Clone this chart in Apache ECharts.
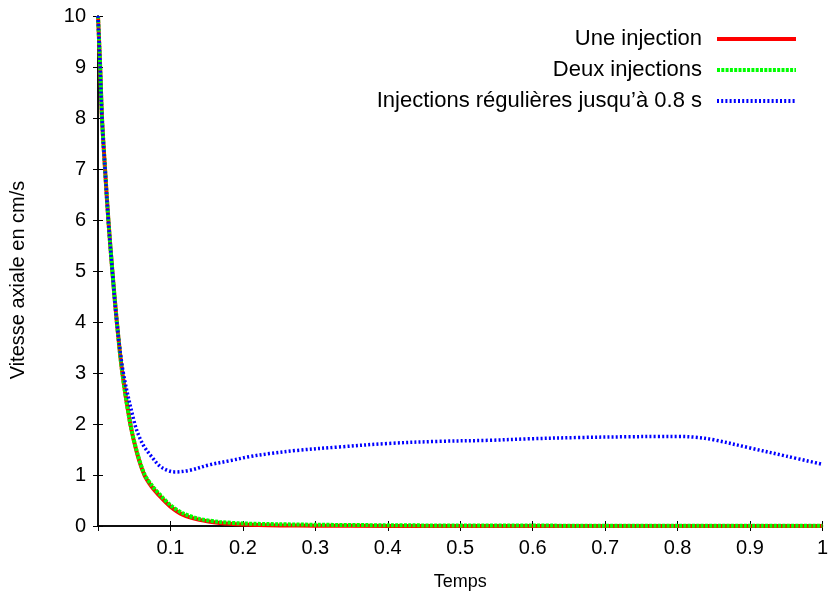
<!DOCTYPE html>
<html>
<head>
<meta charset="utf-8">
<script src="https://cdn.jsdelivr.net/npm/echarts@6/dist/echarts.min.js"></script>
<style>
html,body{margin:0;padding:0;background:#fff;}
#chart{width:831px;height:598px;}
</style>
</head>
<body>
<div id="chart"></div>
<script>
// Series names
const seriesNames = ['Une injection', 'Deux injections', 'Injections régulières jusqu’à 0.8 s'];

// Une injection (red)
const tUne = [0, 0.003, 0.0055, 0.0097, 0.0143, 0.0198, 0.026, 0.0336, 0.0446, 0.054, 0.064, 0.0736, 0.087, 0.1, 0.117, 0.14, 0.168, 0.2, 0.25, 0.3, 0.4, 0.5, 0.6, 0.7, 0.8, 0.9, 1.0];
const vUne = [10, 9, 8, 7, 6, 5, 4, 3, 2, 1.42, 1, 0.78, 0.56, 0.38, 0.22, 0.12, 0.06, 0.03, 0.012, 0.005, 0.001, 0, 0, 0, 0, 0, 0];

// Deux injections (green)
const tDeux = [0, 0.003, 0.0055, 0.0097, 0.0143, 0.0198, 0.026, 0.0336, 0.0446, 0.054, 0.064, 0.0736, 0.087, 0.1, 0.117, 0.14, 0.168, 0.2, 0.25, 0.3, 0.4, 0.5, 0.6, 0.7, 0.8, 0.9, 1.0];
const vDeux = [10, 9, 8, 7, 6, 5, 4, 3, 2, 1.44, 1.02, 0.81, 0.59, 0.41, 0.25, 0.14, 0.08, 0.05, 0.035, 0.025, 0.015, 0.01, 0.008, 0.006, 0.005, 0.004, 0.003];

// Injections régulières jusqu'à 0.8 s (blue)
const tReg = [0, 0.003, 0.0055, 0.0097, 0.0143, 0.0198, 0.026, 0.035, 0.0506, 0.057, 0.064, 0.074, 0.085, 0.096, 0.106, 0.126, 0.154, 0.182, 0.209, 0.237, 0.273, 0.333, 0.402, 0.471, 0.54, 0.595, 0.664, 0.733, 0.775, 0.802, 0.825, 0.85, 0.9, 0.95, 1.0];
const vReg = [10, 9, 8, 7, 6, 5, 4, 3, 2.01, 1.75, 1.55, 1.36, 1.18, 1.09, 1.06, 1.09, 1.2, 1.28, 1.36, 1.42, 1.48, 1.55, 1.62, 1.66, 1.68, 1.71, 1.735, 1.75, 1.755, 1.755, 1.74, 1.69, 1.53, 1.37, 1.21];

// Axis ticks
const xTicks = [0, 0.1, 0.2, 0.3, 0.4, 0.5, 0.6, 0.7, 0.8, 0.9, 1];
const yTicks = [0, 1, 2, 3, 4, 5, 6, 7, 8, 9, 10];

const zip = (t, v) => t.map((x, i) => [x, v[i]]);
const FONT = 'Liberation Sans, Arial, sans-serif';

const chart = echarts.init(document.getElementById('chart'), null, {renderer: 'canvas'});

const axisLine = {show: true, lineStyle: {color: '#000', width: 1.5}};
const axisTick = {show: true, inside: true, length: 5, lineStyle: {color: '#000', width: 1}};

const option = {
  animation: false,
  backgroundColor: '#fff',
  grid: {left: 98, right: 7, top: 16, bottom: 72, containLabel: false},
  legend: {
    orient: 'vertical',
    right: 28,
    top: 23,
    align: 'right',
    itemWidth: 79,
    itemHeight: 14,
    itemGap: 9,
    itemStyle: {color: 'rgba(0,0,0,0)', borderColor: 'rgba(0,0,0,0)', borderWidth: 0},
    lineStyle: {width: 4},
    textStyle: {fontFamily: FONT, fontSize: 22, color: '#000', padding: [0, 10, 0, 0]},
    data: seriesNames
  },
  xAxis: [{
    type: 'value',
    min: xTicks[0], max: xTicks[xTicks.length - 1], interval: 0.1,
    name: 'Temps', nameLocation: 'middle', nameGap: 47,
    nameTextStyle: {fontFamily: FONT, fontSize: 18, color: '#000'},
    axisLine: axisLine, axisTick: axisTick,
    splitLine: {show: false},
    axisLabel: {
      showMinLabel: false, margin: 12,
      fontFamily: FONT, fontSize: 20, color: '#000',
      formatter: v => String(Math.round(v * 10) / 10)
    }
  }, {
    type: 'value', position: 'top',
    min: xTicks[0], max: xTicks[xTicks.length - 1], interval: 0.1,
    axisLine: axisLine, axisTick: axisTick,
    splitLine: {show: false}, axisLabel: {show: false}
  }],
  yAxis: [{
    type: 'value',
    min: yTicks[0], max: yTicks[yTicks.length - 1], interval: 1,
    name: 'Vitesse axiale en cm/s', nameLocation: 'middle', nameGap: 70, nameRotate: 90,
    nameTextStyle: {fontFamily: FONT, fontSize: 20, color: '#000', padding: [0, 18, 0, 0]},
    axisLine: axisLine, axisTick: axisTick,
    splitLine: {show: false},
    axisLabel: {margin: 12, fontFamily: FONT, fontSize: 20, color: '#000'}
  }, {
    type: 'value', position: 'right',
    min: yTicks[0], max: yTicks[yTicks.length - 1], interval: 1,
    axisLine: axisLine, axisTick: axisTick,
    splitLine: {show: false}, axisLabel: {show: false}
  }],
  series: [{
    name: seriesNames[0], type: 'line', data: zip(tUne, vUne),
    showSymbol: false, symbol: 'none', smooth: 0.3,
    lineStyle: {color: '#ff0000', width: 4, type: 'solid'},
    itemStyle: {color: '#ff0000'}, z: 2
  }, {
    name: seriesNames[1], type: 'line', data: zip(tDeux, vDeux),
    showSymbol: false, symbol: 'none', smooth: 0.3,
    lineStyle: {color: '#00ff00', width: 4, type: [3, 1.3]},
    itemStyle: {color: '#00ff00'}, z: 3
  }, {
    name: seriesNames[2], type: 'line', data: zip(tReg, vReg),
    showSymbol: false, symbol: 'none', smooth: 0.35,
    lineStyle: {color: '#0000ff', width: 3.5, type: [2, 2.2]},
    itemStyle: {color: '#0000ff'}, z: 4
  }]
};
chart.setOption(option);
</script>
</body>
</html>
